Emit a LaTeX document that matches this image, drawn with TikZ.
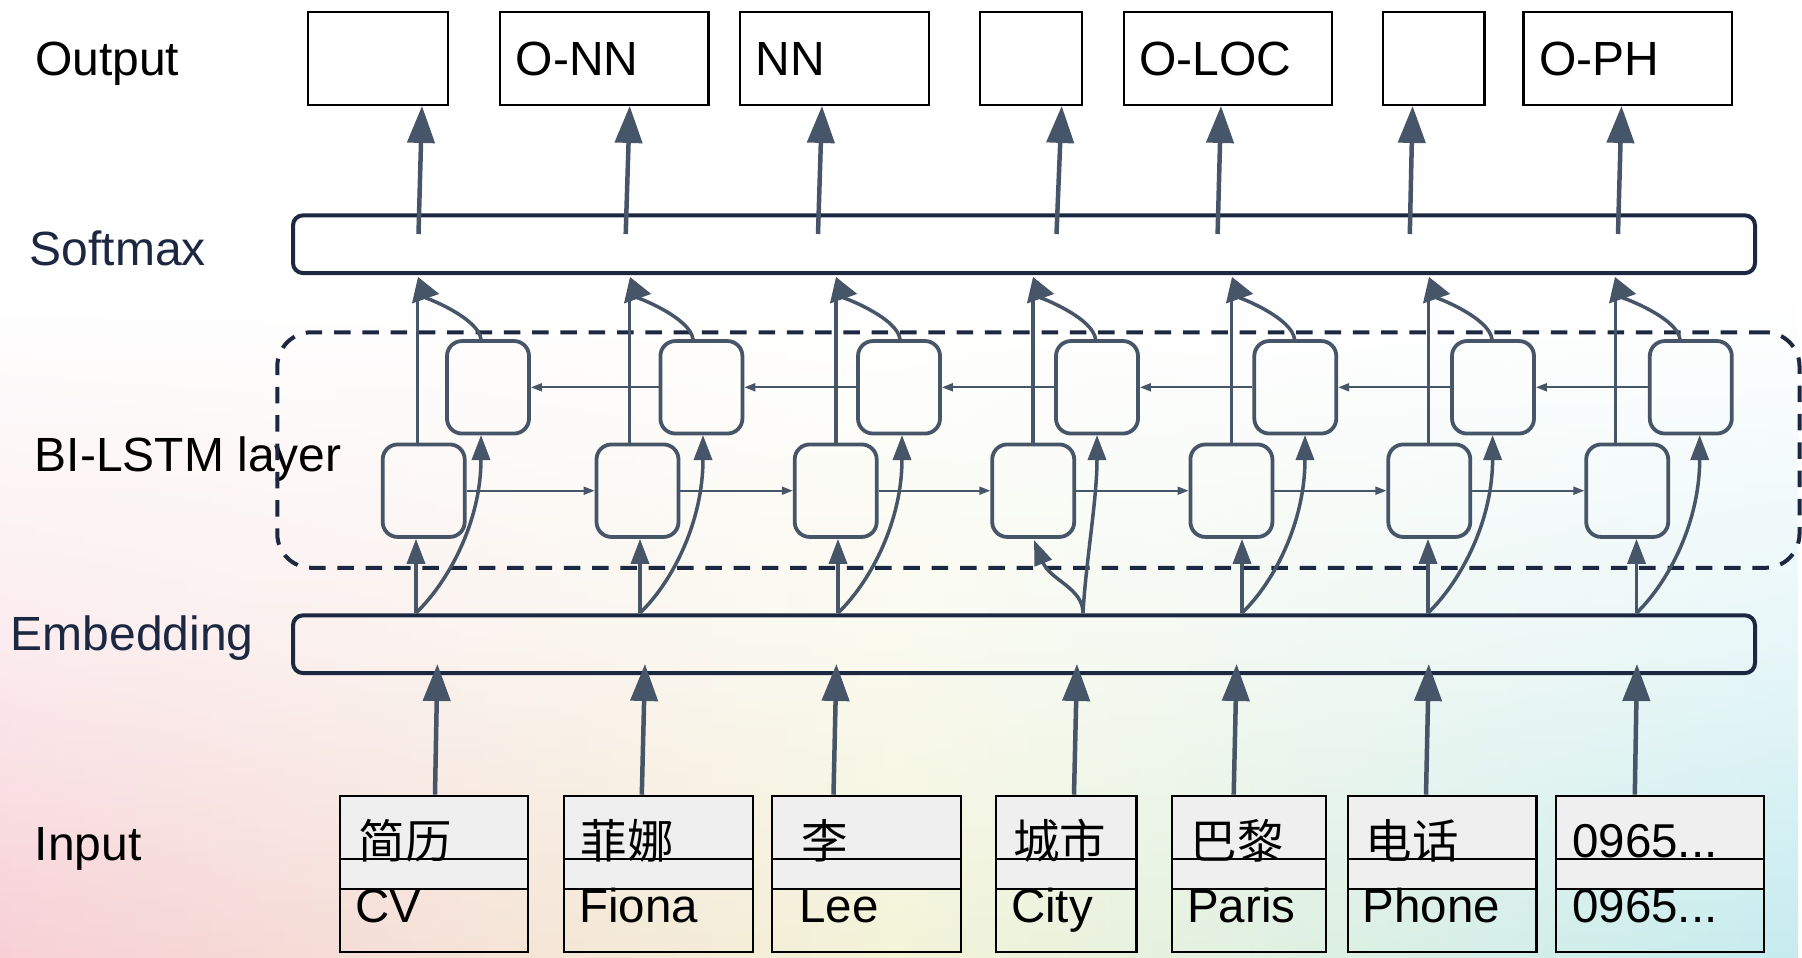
\documentclass[tikz,border=0pt]{standalone}
\usepackage{fontspec}
\setmainfont{Liberation Sans}
\newfontfamily\cjkfont{Noto Sans CJK SC}
\usetikzlibrary{arrows.meta,fadings}

\definecolor{slate}{RGB}{71,85,105}
\definecolor{navy}{RGB}{28,40,66}
\definecolor{boxgray}{RGB}{239,239,239}
\definecolor{bgpink}{RGB}{247,208,214}
\definecolor{bgcream}{RGB}{243,244,216}
\definecolor{bgcyan}{RGB}{198,236,240}

\tikzfading[name=risefade, top color=transparent!100, bottom color=transparent!0, middle color=transparent!62]

\tikzset{
  lbl/.style={anchor=base west, inner sep=0pt, font=\fontsize{48}{58}\selectfont},
  navylbl/.style={lbl, text=navy},
  latintxt/.style={anchor=base west, inner sep=0pt, font=\fontsize{47.5}{57}\selectfont},
  cjktxt/.style={anchor=base west, inner sep=0pt, font=\cjkfont\fontsize{46.5}{56}\selectfont},
  outbox/.style={draw=black, line width=2.2pt, inner sep=0pt, minimum height=93pt},
  inbox/.style={draw=black, line width=2.2pt, inner sep=0pt, minimum height=156.4pt},
  layerbar/.style={draw=navy, line width=4pt, rounded corners=10pt, inner sep=0pt, minimum width=1462pt, minimum height=57.7pt},
  groupbox/.style={draw=navy, line width=4pt, rounded corners=34pt, dash pattern=on 16.5pt off 11.8pt, inner sep=0pt},
  cell/.style={draw=slate, line width=3.8pt, rounded corners=15pt, inner sep=0pt, minimum width=82pt, minimum height=92.5pt},
  bigarrow/.style={draw=slate, line width=4.5pt, -{Triangle[length=37pt,width=27pt]}},
  cellarrow/.style={draw=slate, line width=3.5pt, -{Triangle[length=25pt,width=18pt]}},
  mergearrow/.style={draw=slate, line width=3.5pt, -{Triangle[length=23pt,width=28pt]}},
  feed/.style={draw=slate, line width=3.5pt},
  recur/.style={draw=slate, line width=2pt, -{Triangle[length=11pt,width=8pt]}},
  divider/.style={draw=black, line width=2.2pt},
}

\begin{document}
\begin{tikzpicture}[x=1pt,y=-1pt]
\useasboundingbox (0,0) rectangle (1802,958);
% soft background wash, rising from the bottom edge
\fill[white] (0,0) rectangle (1802,958);
\shade[left color=bgpink, right color=bgcyan, middle color=bgcream, path fading=risefade] (0,300) rectangle (1802,958);

% row labels
\node[lbl] (lout) at (35,75) {Output};
\node[navylbl] (lsm) at (29.5,265) {Softmax};
\node[lbl] (llstm) at (34.5,471.7) {BI-LSTM layer};
\node[navylbl] (lemb) at (10.7,650) {Embedding};
\node[lbl] (lin) at (34.6,860) {Input};

% layer bars and the bidirectional group
\node[layerbar] (sm) at (1024,244.2) {};
\node[layerbar] (emb) at (1024,644.2) {};
\node[groupbox, minimum width=1522.2pt, minimum height=235.5pt] (bilstm) at (1038.4,450.05) {};

% forward (lower) and backward (upper) LSTM cells
\foreach \i/\lx/\ux in {1/423.7/488, 2/637.5/701.4, 3/835.7/899, 4/1033.2/1097, 5/1231.4/1295.3, 6/1429.3/1493, 7/1627.2/1690.8}{
  \node[cell] (l\i) at (\lx,490.7) {};
  \node[cell] (u\i) at (\ux,387.3) {};
}

% recurrent links
\foreach \i/\j in {1/2,2/3,3/4,4/5,5/6,6/7}{
  \draw[recur] (l\i.east) -- (l\j.west);
  \draw[recur] (u\j.west) -- (u\i.east);
}

% per-token connections between embedding, cells and softmax
\foreach \i/\fx/\ux/\vx/\ox/\tx in {1/416/481/417.4/481/418, 2/640/703/629.5/693/630, 3/838/902/836/900/836, 4/1083/1097/1033/1095.6/1033, 5/1242/1305/1231.7/1294.6/1232, 6/1428/1492.6/1428.6/1492/1429, 7/1636.5/1699.7/1615.3/1680/1615}{
  \coordinate (f\i) at (\fx,613);
  \coordinate (m\i) at (\tx,277);
  \coordinate (bi\i) at (\ux,435);
  \coordinate (bo\i) at (\ox,339.5);
  \coordinate (fo\i) at (\vx,444);
  \coordinate (fm\i) at (\vx,296);
  \pgfmathsetmacro\ca{\fx+34}
  \pgfmathsetmacro\cb{\ox-2}
  \pgfmathsetmacro\cc{\tx+7}
  \draw[feed] (fo\i) -- (fm\i);
  \draw[mergearrow] (bo\i) .. controls (\cb,318) and (\cc,297) .. (m\i);
  \ifnum\i=4
    \coordinate (li\i) at (1034,540);
    \draw[cellarrow] (f\i) .. controls (\fx,588) and (1050,580) .. (li\i);
    \draw[cellarrow] (f\i) .. controls (1086,560) and (\ux,500) .. (bi\i);
  \else
    \draw[cellarrow] (f\i) -- (l\i.south -| f\i);
    \draw[cellarrow] (f\i) .. controls (\ca,580) and (\ux,520) .. (bi\i);
  \fi
}

% output boxes
\foreach \i/\l/\r in {1/307/449, 2/499/709.5, 3/739/930, 4/979/1083, 5/1122.6/1333, 6/1381.5/1485.6, 7/1522.4/1733}{
  \node[outbox, minimum width={(\r-\l-2.2)*1pt}] (o\i) at ({(\l+\r)/2},58.35) {};
}
\node[lbl] (ot2) at (515.7,75) {O-NN};
\node[lbl] (ot3) at (755.5,75) {NN};
\node[lbl] (ot5) at (1139.4,75) {O-LOC};
\node[lbl] (ot7) at (1539.2,75) {O-PH};

% softmax to output
\foreach \i/\a/\b in {1/418.5/422, 2/625.7/629.7, 3/818/822, 4/1056.5/1061.7, 5/1217.6/1221, 6/1409.8/1412.6, 7/1618/1621.5}{
  \coordinate (so\i) at (\a,234);
  \coordinate (ox\i) at (\b,0);
  \draw[bigarrow] (so\i) -- (o\i.south -| ox\i);
}

% input boxes: two shaded rows above a plain row
\foreach \i/\l/\r in {1/338.7/529.3, 2/562.6/753.7, 3/771/962, 4/995/1137.6, 5/1171/1327, 6/1347/1537.5, 7/1554.8/1765.4}{
  \fill[boxgray] (\l,794.7) rectangle (\r,889.3);
  \draw[divider] (\l,858.7) -- (\r,858.7);
  \draw[divider] (\l,889.3) -- (\r,889.3);
  \node[inbox, minimum width={(\r-\l-2.2)*1pt}] (in\i) at ({(\l+\r)/2},874) {};
}
\node[cjktxt] (c1) at (358.5,858.4) {简历};
\node[latintxt] (e1) at (354.8,922.7) {CV};
\node[cjktxt] (c2) at (580.7,858.4) {菲娜};
\node[latintxt] (e2) at (579,922.7) {Fiona};
\node[cjktxt] (c3) at (801.5,858.4) {李};
\node[latintxt] (e3) at (799.2,922.7) {Lee};
\node[cjktxt] (c4) at (1013,858.4) {城市};
\node[latintxt] (e4) at (1010.8,922.7) {City};
\node[cjktxt] (c5) at (1190.5,858.4) {巴黎};
\node[latintxt] (e5) at (1187,922.7) {Paris};
\node[cjktxt] (c6) at (1365.5,858.4) {电话};
\node[latintxt] (e6) at (1362.6,922.7) {Phone};
\node[latintxt] (c7) at (1572,857) {0965...};
\node[latintxt] (e7) at (1572,922.7) {0965...};

% input to embedding
\foreach \i/\a/\b in {1/435/437.4, 2/641.8/645, 3/833.5/836.4, 4/1074/1077, 5/1233.7/1236.6, 6/1426/1428.8, 7/1634.8/1637}{
  \coordinate (ix\i) at (\a,0);
  \coordinate (et\i) at (\b,664);
  \draw[bigarrow] (in\i.north -| ix\i) -- (et\i);
}
\end{tikzpicture}
\end{document}
